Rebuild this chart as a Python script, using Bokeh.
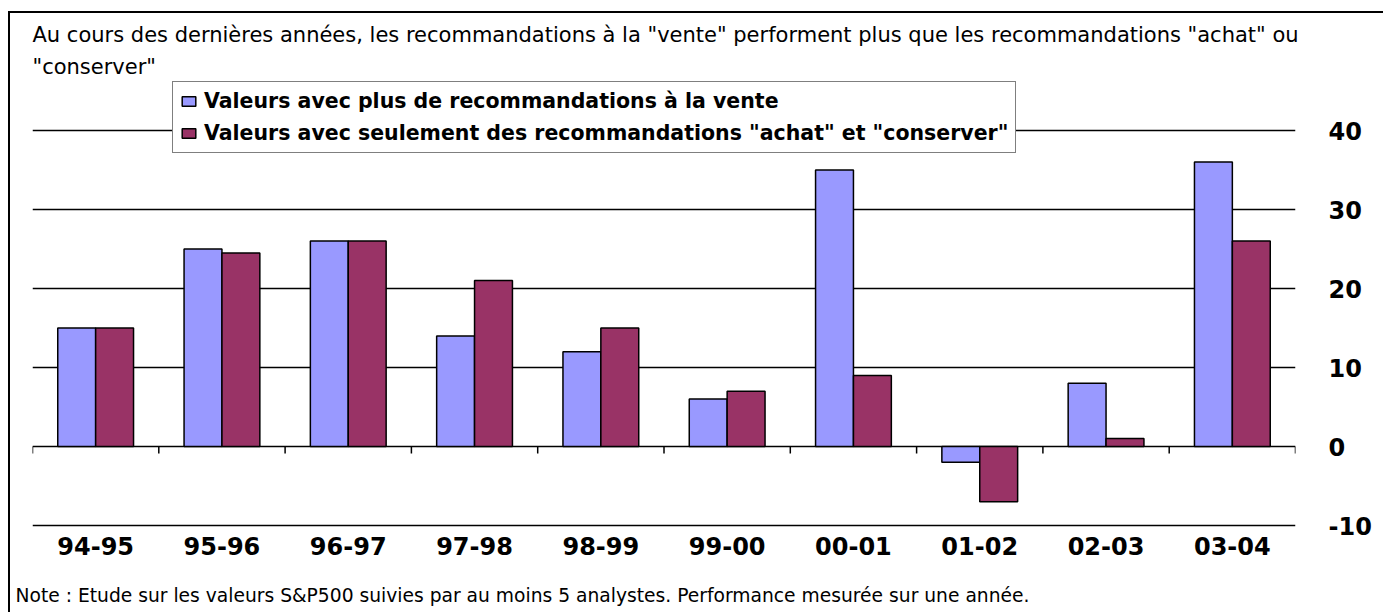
from bokeh.plotting import figure
from bokeh.models import (FactorRange, FixedTicker, Legend, LegendItem, Title, ColumnDataSource)
from bokeh.transform import dodge
from bokeh.embed import file_html
from bokeh.resources import INLINE

categories = ["94-95", "95-96", "96-97", "97-98", "98-99", "99-00", "00-01", "01-02", "02-03", "03-04"]
vente = [15, 25, 26, 14, 12, 6, 35, -2, 8, 36]
achat = [15, 24.5, 26, 21, 15, 7, 9, -7, 1, 26]
y_ticks = [-10, 0, 10, 20, 30, 40]

title_1 = 'Au cours des dernières années, les recommandations à la "vente" performent plus que les recommandations "achat" ou'
title_2 = '"conserver"'
legend_1 = "Valeurs avec plus de recommandations à la vente"
legend_2 = 'Valeurs avec seulement des recommandations "achat" et "conserver"'
note = "Note : Etude sur les valeurs S&P500 suivies par au moins 5 analystes. Performance mesurée sur une année."

BLUE = "#9999FF"
RED = "#993366"
FONT = "DejaVu Sans"

# layout (pixels)
W, H = 1383, 612
FRAME_L, FRAME_R = 32, 1295
FRAME_T, Y40_PX, YM10_PX, FRAME_B = 78, 130, 525, 528
px_per_unit = (YM10_PX - Y40_PX) / (max(y_ticks) - min(y_ticks))
y_end = max(y_ticks) + (Y40_PX - FRAME_T) / px_per_unit
y_start = min(y_ticks) - (FRAME_B - YM10_PX) / px_per_unit

src = ColumnDataSource(dict(cat=categories, vente=vente, achat=achat))

p = figure(x_range=FactorRange(*categories, range_padding=0), y_range=(y_start, y_end),
           width=W, height=H, output_backend="svg", toolbar_location=None,
           y_axis_location="right",
           min_border_left=FRAME_L, min_border_right=W - FRAME_R,
           min_border_top=FRAME_T, min_border_bottom=H - FRAME_B)
p.outline_line_color = None
p.background_fill_color = "white"
p.border_fill_alpha = 0
p.styles = {
    "background": "linear-gradient(black, black) 8px 11px / 2px 601px no-repeat, "
                  "linear-gradient(black, black) 8px 11px / 1375px 2px no-repeat, white"
}

r1 = p.vbar(x=dodge("cat", -0.15, range=p.x_range), top="vente", width=0.3, source=src,
            fill_color=BLUE, line_color="black", line_width=1.5)
r2 = p.vbar(x=dodge("cat", 0.15, range=p.x_range), top="achat", width=0.3, source=src,
            fill_color=RED, line_color="black", line_width=1.5)

# tick marks on the zero line at category boundaries
n = len(categories)
bounds = list(range(n + 1))
p.segment(x0=bounds, x1=bounds, y0=[0] * (n + 1), y1=[-7 / px_per_unit] * (n + 1),
          line_color="black", line_width=1.5)

p.xgrid.grid_line_color = None
p.ygrid.ticker = FixedTicker(ticks=y_ticks)
p.ygrid.grid_line_color = "black"
p.ygrid.grid_line_width = 1.5

p.yaxis.ticker = FixedTicker(ticks=y_ticks)
p.yaxis.major_label_overrides = {t: str(t) for t in y_ticks}
p.yaxis.axis_line_color = None
p.yaxis.major_tick_line_color = None
p.yaxis.minor_tick_line_color = None
p.yaxis.major_tick_out = 0
p.yaxis.major_label_standoff = 33
p.yaxis.major_label_text_font = FONT
p.yaxis.major_label_text_font_style = "bold"
p.yaxis.major_label_text_font_size = "24px"
p.yaxis.major_label_text_color = "black"

p.xaxis.axis_line_color = None
p.xaxis.major_tick_line_color = None
p.xaxis.major_tick_out = 0
p.xaxis.major_label_standoff = 8
p.xaxis.major_label_text_font = FONT
p.xaxis.major_label_text_font_style = "bold"
p.xaxis.major_label_text_font_size = "24px"
p.xaxis.major_label_text_color = "black"
# blank axis label used only as vertical spacing before the footnote
p.xaxis.axis_label = " "
p.xaxis.axis_label_standoff = 20
p.xaxis.axis_label_text_font_size = "2px"
p.xaxis.axis_label_text_alpha = 0

legend = Legend(items=[LegendItem(label=legend_1, renderers=[r1]),
                       LegendItem(label=legend_2, renderers=[r2])],
                location=(172 - FRAME_L, FRAME_B - 153), orientation="vertical",
                label_text_font=FONT, label_text_font_style="bold", label_text_font_size="20.5px",
                label_text_color="black",
                glyph_width=17, glyph_height=12, label_standoff=7, label_height=23,
                padding=7, spacing=8, margin=0,
                border_line_color="black", border_line_width=1.5,
                background_fill_color="white", background_fill_alpha=1.0)
p.add_layout(legend)

p.add_layout(Title(text=title_2, align="left", text_font=FONT, text_font_size="21px",
                   text_font_style="normal", text_color="black", standoff=0), "above")
p.add_layout(Title(text=title_1, align="left", text_font=FONT, text_font_size="21px",
                   text_font_style="normal", text_color="black", standoff=12), "above")
p.add_layout(Title(text=note, align="left", offset=15 - FRAME_L, text_font=FONT, text_font_size="18.7px",
                   text_font_style="normal", text_color="black", standoff=0), "below")

open("out.html", "w").write(file_html(p, INLINE))
